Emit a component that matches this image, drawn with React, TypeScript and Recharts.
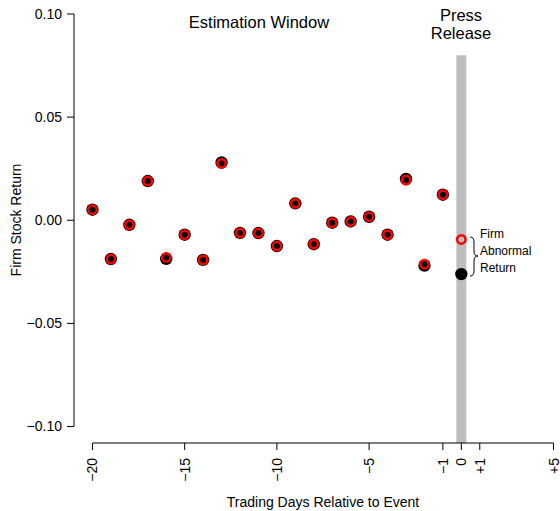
import { ScatterChart, Scatter, XAxis, YAxis, ReferenceArea, ReferenceLine } from 'recharts'

// trading days relative to the press release
const days = [-20, -19, -18, -17, -16, -15, -14, -13, -12, -11, -10, -9, -8, -7, -6, -5, -4, -3, -2, -1, 0]

// observed firm return (black) and model-predicted return (red ring)
const actualReturns = [
  0.0051, -0.0188, -0.0022, 0.019, -0.0187, -0.007, -0.0192, 0.028, -0.0061, -0.0062, -0.0125,
  0.0082, -0.0116, -0.0012, -0.0006, 0.0017, -0.007, 0.02, -0.022, 0.0124, -0.0261,
]
const predictedReturns = [
  0.0051, -0.0188, -0.0022, 0.019, -0.018, -0.007, -0.0192, 0.0276, -0.0061, -0.0062, -0.0125,
  0.0082, -0.0116, -0.0012, -0.0006, 0.0017, -0.007, 0.0195, -0.0213, 0.0124, -0.0093,
]

const xTicks = [-20, -15, -10, -5, -1, 0, 1, 5]
const xTickLabels = ['−20', '−15', '−10', '−5', '−1', '0', '+1', '+5']
const yTicks = [-0.1, -0.05, 0, 0.05, 0.1]

const actualData = days.map((d, i) => ({ x: d, y: actualReturns[i] }))
const predictedData = days.map((d, i) => ({ x: d, y: predictedReturns[i] }))

const FONT = '"Liberation Sans", Arial, Helvetica, sans-serif'

const fmtY = (v: number) => (v < 0 ? '−' + Math.abs(v).toFixed(2) : v.toFixed(2))

const DayTick = (props: any) => {
  const { x, y, payload } = props
  const label = xTickLabels[xTicks.indexOf(payload.value)]
  return (
    <text
      x={x}
      y={y}
      transform={`rotate(-90 ${x} ${y})`}
      textAnchor="end"
      dominantBaseline="central"
      fontSize={14}
      fill="#000"
    >
      {label}
    </text>
  )
}

const ActualDot = (p: any) => <circle cx={p.cx} cy={p.cy} r={6.2} fill="#000" />
const PredictedRing = (p: any) => (
  <circle cx={p.cx} cy={p.cy} r={4.2} fill="none" stroke="#ff0000" strokeWidth={2.5} />
)

export default function App() {
  return (
    <div
      style={{
        position: 'absolute',
        left: 0,
        top: 0,
        width: 560,
        height: 511,
        overflow: 'hidden',
        background: '#fff',
        fontFamily: FONT,
      }}
    >
      <ScatterChart width={572} height={511} margin={{ top: 14, right: 0, bottom: 0, left: 0 }}>
        <XAxis
          type="number"
          dataKey="x"
          domain={[-21, 6]}
          ticks={xTicks}
          interval={0}
          allowDataOverflow
          axisLine={false}
          tickLine={{ stroke: '#000' }}
          tickSize={7}
          tickMargin={8}
          tick={<DayTick />}
          height={68}
          label={{
            value: 'Trading Days Relative to Event',
            position: 'insideBottom',
            offset: 4,
            fill: '#000',
            fontSize: 14,
          }}
        />
        <YAxis
          type="number"
          dataKey="y"
          domain={[-0.108, 0.1]}
          ticks={yTicks}
          interval={0}
          allowDataOverflow
          width={74}
          axisLine={false}
          tickLine={{ stroke: '#000' }}
          tickSize={7}
          tickMargin={5}
          tick={{ fill: '#000', fontSize: 14 }}
          tickFormatter={fmtY}
        />
        <ReferenceArea x1={-0.27} x2={0.27} y1={-0.108} y2={0.08} fill="#bebebe" fillOpacity={1} stroke="none" />
        <ReferenceLine
          segment={[{ x: -21, y: -0.1 }, { x: -21, y: 0.1 }]}
          stroke="#000"
          ifOverflow="visible"
        />
        <ReferenceLine
          segment={[{ x: -20, y: -0.108 }, { x: 5, y: -0.108 }]}
          stroke="#000"
          ifOverflow="visible"
        />
        <Scatter data={actualData} shape={<ActualDot />} isAnimationActive={false} />
        <Scatter data={predictedData} shape={<PredictedRing />} isAnimationActive={false} />
      </ScatterChart>

      <svg
        width={560}
        height={511}
        style={{ position: 'absolute', left: 0, top: 0, pointerEvents: 'none' }}
      >
        <text x={16} y={220} transform="rotate(-90 16 220)" textAnchor="middle" dy="0.35em" fontSize={14} fill="#000">
          Firm Stock Return
        </text>
        <text x={259} y={22} textAnchor="middle" dy="0.35em" fontSize={16.5} fill="#000">
          Estimation Window
        </text>
        <text x={461} y={15} textAnchor="middle" dy="0.35em" fontSize={16.5} fill="#000">
          Press
        </text>
        <text x={461} y={33} textAnchor="middle" dy="0.35em" fontSize={16.5} fill="#000">
          Release
        </text>
        <path
          d="M470,237 Q474,237 474,242 L474,251 Q474,256 478,256 Q474,256 474,261 L474,271 Q474,276 470,276"
          fill="none"
          stroke="#000"
          strokeWidth={1}
        />
        <text x={480} y={234} dy="0.35em" fontSize={12} fill="#000">Firm</text>
        <text x={480} y={251} dy="0.35em" fontSize={12} fill="#000">Abnormal</text>
        <text x={480} y={268} dy="0.35em" fontSize={12} fill="#000">Return</text>
      </svg>
    </div>
  )
}
